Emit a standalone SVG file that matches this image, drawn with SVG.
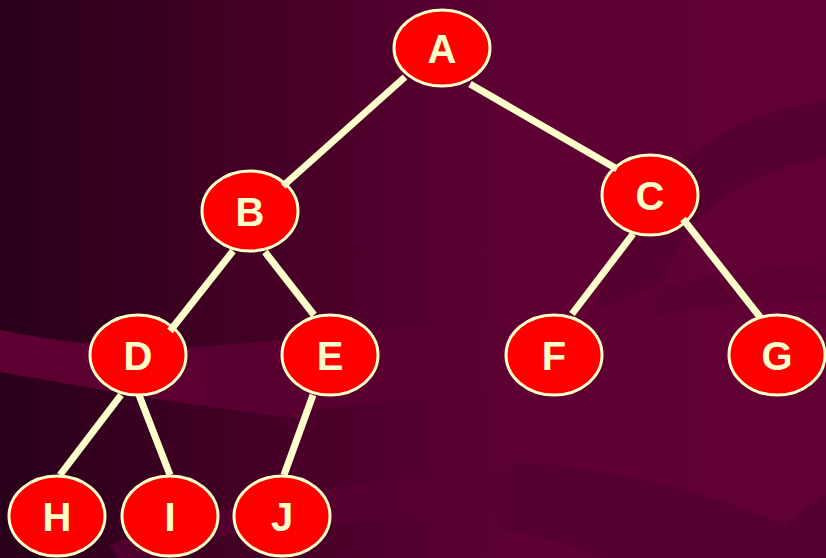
<svg xmlns="http://www.w3.org/2000/svg" width="826" height="558" viewBox="0 0 826 558">
<defs>
<linearGradient id="bg" x1="0" y1="0" x2="826" y2="0" gradientUnits="userSpaceOnUse">
<stop offset="0" stop-color="#29001a"/>
<stop offset="0.36" stop-color="#480028"/>
<stop offset="0.62" stop-color="#5d0033"/>
<stop offset="1" stop-color="#620035"/>
</linearGradient>
<linearGradient id="band" x1="0" y1="0" x2="560" y2="0" gradientUnits="userSpaceOnUse">
<stop offset="0" stop-color="#5e0032" stop-opacity="1"/>
<stop offset="0.7" stop-color="#5c0032" stop-opacity="0.85"/>
<stop offset="1" stop-color="#5c0032" stop-opacity="0"/>
</linearGradient>
<linearGradient id="band2" x1="100" y1="0" x2="560" y2="0" gradientUnits="userSpaceOnUse">
<stop offset="0" stop-color="#520030" stop-opacity="0.9"/>
<stop offset="1" stop-color="#5a0033" stop-opacity="0.9"/>
</linearGradient>
<style>
.edge{stroke:#ffffcc;stroke-width:7;stroke-linecap:butt;fill:none}
.node ellipse{fill:#ff0000;stroke:#ffffcc;stroke-width:3}
.node text{fill:#ffffcc;font-family:"Liberation Sans",Arial,sans-serif;font-weight:bold;font-size:40px;text-anchor:middle}
</style>
</defs>
<rect width="826" height="558" fill="url(#bg)"/>
<path d="M0,330 C60,342 120,349 180,348 C280,342 380,328 560,314 L560,380 C450,392 360,405 313,410 L300,418 C230,412 120,393 0,372 Z" fill="url(#band)"/>
<path d="M110,545 C180,515 330,482 530,465 L530,512 C400,518 300,525 237,533 C200,540 175,550 160,558 L118,558 Z" fill="url(#band2)"/>
<path d="M595,310 C620,210 690,118 826,101 L826,158 C740,170 680,220 663,283 Z" fill="#55002f"/>
<path d="M663,285 C720,276 780,268 826,262 L826,300 C760,300 700,305 640,320 Z" fill="#57002f" opacity="0.6"/>
<path d="M513,462 C640,470 720,500 785,525 L826,493 L826,558 L600,558 C560,540 530,532 500,530 Z" fill="#55002f"/>
<g id="nodes">
<g id="node-A" class="node"><ellipse cx="442" cy="48" rx="48" ry="38"/><text x="442" y="63">A</text></g>
<g id="node-B" class="node"><ellipse cx="250" cy="211" rx="48" ry="40"/><text x="250" y="226">B</text></g>
<g id="node-C" class="node"><ellipse cx="650" cy="195" rx="48" ry="40"/><text x="650" y="210">C</text></g>
<g id="node-D" class="node"><ellipse cx="138" cy="355" rx="48" ry="40"/><text x="138" y="370">D</text></g>
<g id="node-E" class="node"><ellipse cx="330" cy="355" rx="48" ry="40"/><text x="330" y="370">E</text></g>
<g id="node-F" class="node"><ellipse cx="554" cy="355" rx="48" ry="40"/><text x="554" y="370">F</text></g>
<g id="node-G" class="node"><ellipse cx="777" cy="355" rx="48" ry="40"/><text x="777" y="370">G</text></g>
<g id="node-H" class="node"><ellipse cx="57" cy="516" rx="48" ry="40"/><text x="57" y="531">H</text></g>
<g id="node-I" class="node"><ellipse cx="170" cy="516" rx="48" ry="40"/><text x="170" y="531">I</text></g>
<g id="node-J" class="node"><ellipse cx="282" cy="516" rx="48" ry="40"/><text x="282" y="531">J</text></g>
</g>
<g id="connectors">
<line class="edge" x1="405" y1="77" x2="283" y2="186"/>
<line class="edge" x1="470" y1="84" x2="617" y2="169"/>
<line class="edge" x1="233" y1="251" x2="170" y2="331"/>
<line class="edge" x1="265" y1="252" x2="314" y2="315"/>
<line class="edge" x1="633" y1="234" x2="572" y2="314"/>
<line class="edge" x1="683" y1="219" x2="760" y2="317"/>
<line class="edge" x1="121" y1="395" x2="60" y2="475"/>
<line class="edge" x1="139" y1="395" x2="170" y2="475"/>
<line class="edge" x1="313" y1="395" x2="284" y2="475"/>
</g>
</svg>
